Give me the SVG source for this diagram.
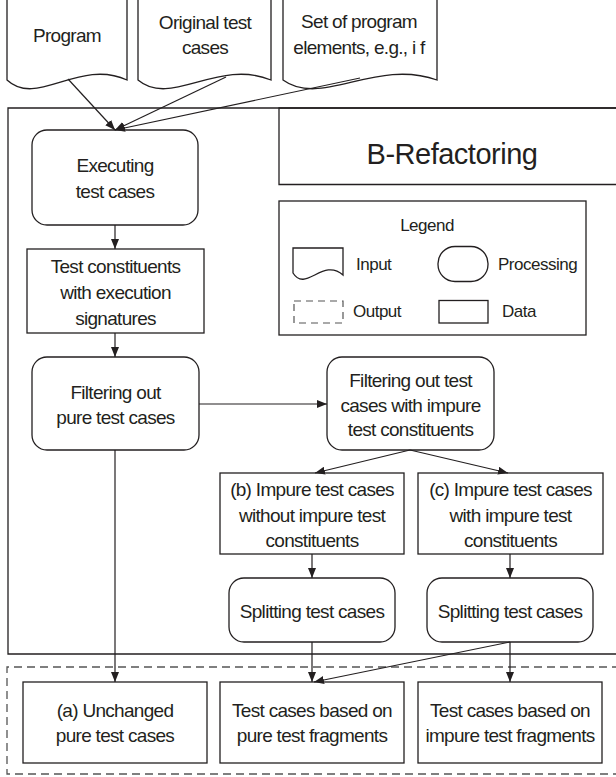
<svg xmlns="http://www.w3.org/2000/svg" width="616" height="777" viewBox="0 0 616 777">
<defs>
<marker id="ah" viewBox="0 0 10 8" refX="10" refY="4" markerWidth="10" markerHeight="8" markerUnits="userSpaceOnUse" orient="auto">
<path d="M0,0 L10,4 L0,8 z" fill="#231f20"/>
</marker>
<style>
.s{fill:#fff;stroke:#231f20;stroke-width:1.3}
.f{fill:none;stroke:#231f20;stroke-width:1.3}
.d{fill:none;stroke:#555;stroke-width:1.3;stroke-dasharray:8,5}
.c{fill:none;stroke:#231f20;stroke-width:1.2;marker-end:url(#ah)}
text{font-family:"Liberation Sans",Arial,sans-serif;fill:#231f20}
.t{font-size:19px;letter-spacing:-0.7px;text-anchor:middle}
.l{font-size:17px;letter-spacing:-0.5px}
.h{font-size:29px;letter-spacing:-0.5px;text-anchor:middle}
</style>
</defs>
<rect width="616" height="777" fill="#fff"/>

<g id="frame">
<path class="f" d="M620,108 H8 V654 H620"/>
</g>
<g id="output-frame">
<path class="d" d="M620,667 H7 V774 H620"/>
</g>

<g id="title">
<path class="f" d="M620,108 H279 V184.5 H620"/>
<text class="h" x="452" y="164">B-Refactoring</text>
</g>

<g id="legend">
<rect class="s" x="279" y="201" width="307" height="134"/>
<text class="l" x="427" y="231" text-anchor="middle">Legend</text>
<path class="s" d="M293,248 H343 V275 C323,257 305.5,293 293,273 Z"/>
<text class="l" x="356" y="270">Input</text>
<rect class="s" x="438" y="246.5" width="50" height="35" rx="17" ry="17"/>
<text class="l" x="498" y="270">Processing</text>
<rect x="294" y="301" width="49" height="22" fill="none" stroke="#555" stroke-width="1.2" stroke-dasharray="7,5"/>
<text class="l" x="353" y="317">Output</text>
<rect class="s" x="439" y="300.5" width="49" height="22.5"/>
<text class="l" x="502" y="317">Data</text>
</g>

<g id="in-program">
<path class="s" d="M7,-2 V80 C37,108 79,58 127,80 V-2 Z"/>
<text class="t" x="67" y="42">Program</text>
</g>
<g id="in-tests">
<path class="s" d="M138,-2 V80 C171,108 218,58 271,80 V-2 Z"/>
<text class="t" x="205" y="29">Original test</text>
<text class="t" x="205" y="54">cases</text>
</g>
<g id="in-elements">
<path class="s" d="M283,-2 V80 C321.5,108 375.4,58 437,80 V-2 Z"/>
<text class="t" x="359" y="28">Set of program</text>
<text class="t" x="359" y="54">elements, e.g., i f</text>
</g>

<g id="executing">
<rect class="s" x="32" y="130" width="166" height="95" rx="15" ry="15"/>
<text class="t" x="115" y="172">Executing</text>
<text class="t" x="115" y="198">test cases</text>
</g>
<g id="constituents">
<rect class="s" x="27" y="249" width="177" height="84"/>
<text class="t" x="115.5" y="273">Test constituents</text>
<text class="t" x="115.5" y="299">with execution</text>
<text class="t" x="115.5" y="325">signatures</text>
</g>
<g id="filter-pure">
<rect class="s" x="32" y="357" width="167" height="93" rx="15" ry="15"/>
<text class="t" x="115.5" y="399">Filtering out</text>
<text class="t" x="115.5" y="424">pure test cases</text>
</g>
<g id="filter-impure">
<rect class="s" x="327" y="357" width="167" height="93" rx="15" ry="15"/>
<text class="t" x="410.5" y="387">Filtering out test</text>
<text class="t" x="410.5" y="412">cases with impure</text>
<text class="t" x="410.5" y="436">test constituents</text>
</g>
<g id="impure-b">
<rect class="s" x="220" y="473" width="184" height="81"/>
<text class="t" x="312" y="496">(b) Impure test cases</text>
<text class="t" x="312" y="522">without impure test</text>
<text class="t" x="312" y="547">constituents</text>
</g>
<g id="impure-c">
<rect class="s" x="418" y="473" width="185" height="81"/>
<text class="t" x="510.5" y="496">(c) Impure test cases</text>
<text class="t" x="510.5" y="522">with impure test</text>
<text class="t" x="510.5" y="547">constituents</text>
</g>
<g id="split-b">
<rect class="s" x="229" y="578" width="166" height="64" rx="15" ry="15"/>
<text class="t" x="312" y="618">Splitting test cases</text>
</g>
<g id="split-c">
<rect class="s" x="427" y="578" width="166" height="64" rx="15" ry="15"/>
<text class="t" x="510" y="618">Splitting test cases</text>
</g>
<g id="out-a">
<rect class="s" x="23" y="682" width="184" height="81"/>
<text class="t" x="115" y="717">(a) Unchanged</text>
<text class="t" x="115" y="742">pure test cases</text>
</g>
<g id="out-pure">
<rect class="s" x="220" y="682" width="184" height="81"/>
<text class="t" x="312" y="717">Test cases based on</text>
<text class="t" x="312" y="742">pure test fragments</text>
</g>
<g id="out-impure">
<rect class="s" x="418" y="682" width="184" height="81"/>
<text class="t" x="510" y="717">Test cases based on</text>
<text class="t" x="510" y="742">impure test fragments</text>
</g>

<g id="connectors">
<path class="c" d="M68,79 L115,130"/>
<path class="c" d="M226,77 L115,130"/>
<path class="c" d="M360,78 L115,130"/>
<path class="c" d="M115,225 V249"/>
<path class="c" d="M115,333 V357"/>
<path class="c" d="M199,404 H327"/>
<path class="c" d="M115,450 V682"/>
<path class="c" d="M410,450 L315,473"/>
<path class="c" d="M410,450 L508,473"/>
<path class="c" d="M312,554 V578"/>
<path class="c" d="M510,554 V578"/>
<path class="c" d="M312,642 V682"/>
<path class="c" d="M510,642 L314,682"/>
<path class="c" d="M510,642 V682"/>
</g>
</svg>
